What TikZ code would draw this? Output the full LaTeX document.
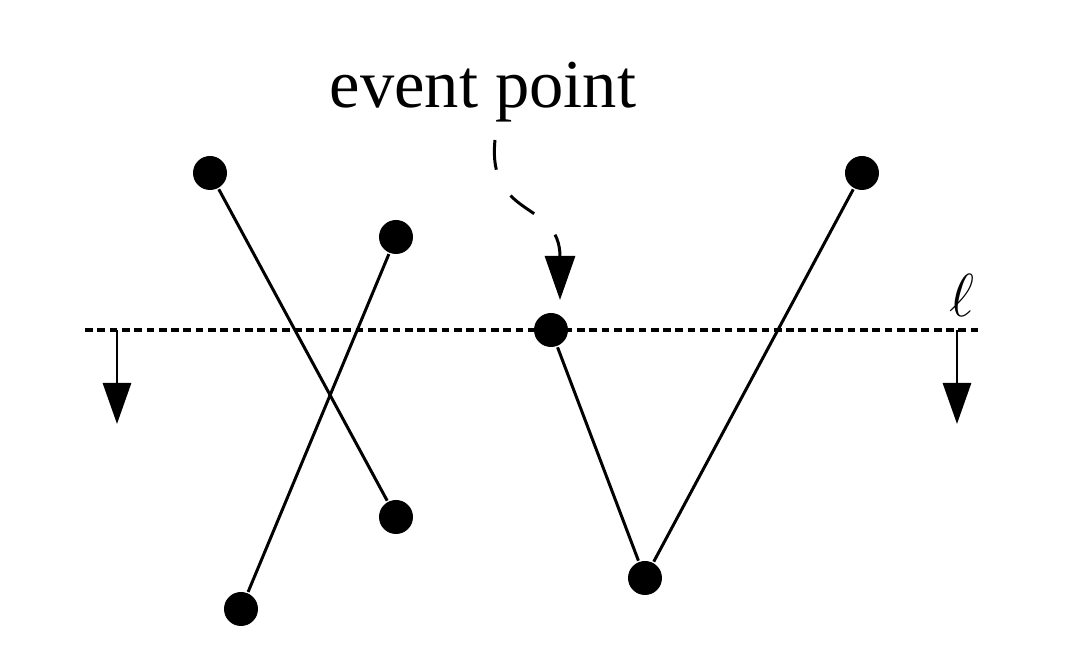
\documentclass[tikz,border=0pt]{standalone}
\usepackage{fontspec}
\setmainfont{Liberation Serif}
\usepackage{tikz}
\usetikzlibrary{arrows.meta,calc,positioning}

\begin{document}
\begin{tikzpicture}[line width=0.85pt,
  pt/.style={circle,fill=black,inner sep=0pt,minimum size=3.4mm},
  seg/.style={draw=black},
  sweepline/.style={line width=0.9pt,dash pattern=on 2.2pt off 1.3pt},
  down/.style={-{Triangle[length=4.1mm,width=2.8mm]}},
  ptr/.style={-{Triangle[length=4.4mm,width=3mm]},dash pattern=on 8.5pt off 8.5pt}]
  \useasboundingbox (0,0) rectangle (10.84,6.72);
  % segments
  \node[pt] (a1) at (2.10,4.99) {};
  \node[pt] (a2) at (3.96,1.55) {};
  \node[pt] (b1) at (3.96,4.35) {};
  \node[pt] (b2) at (2.41,0.63) {};
  \node[pt] (ev) at (5.51,3.42) {};
  \node[pt] (bot) at (6.45,0.94) {};
  \node[pt] (top) at (8.62,4.99) {};
  \draw[seg] (a1)--(a2);
  \draw[seg] (b1)--(b2);
  \draw[seg] (ev)--(bot)--(top);
  % sweep line
  \coordinate (l0) at (0.85,3.42);
  \coordinate (l1) at (9.80,3.42);
  \draw[sweepline] (l0)--(l1);
  \coordinate (dl) at (1.17,3.42);
  \coordinate (dr) at (9.57,3.42);
  \draw[down] (dl)--++(0,-0.94);
  \draw[down] (dr)--++(0,-0.94);
  \node[font=\fontsize{18}{20}\selectfont] (ell) at (9.62,3.77) {$\ell$};
  % label
  \node[font=\fontsize{19.5}{23}\selectfont,anchor=base] (lbl) at (4.83,5.64) {event point};
  \coordinate (c0) at (4.95,5.32);
  \coordinate (c1) at (5.60,3.72);
  \draw[ptr] (c0) .. controls (4.87,4.52) and (5.60,4.72) .. (c1);
\end{tikzpicture}
\end{document}
